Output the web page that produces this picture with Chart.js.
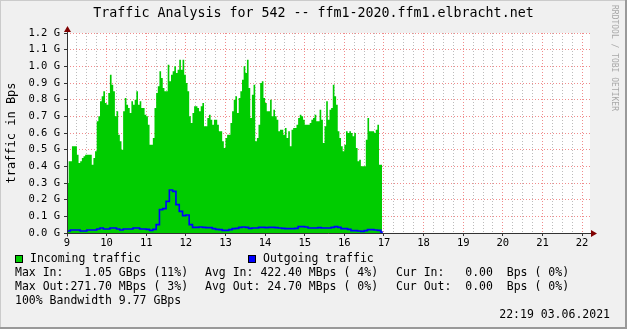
<!DOCTYPE html>
<html>
<head>
<meta charset="utf-8">
<script src="https://cdn.jsdelivr.net/npm/chart.js@4.4.0/dist/chart.umd.min.js"></script>
<style>
  html, body { margin: 0; padding: 0; background: #f0f0f0; }
</style>
</head>
<body>
<canvas id="chart" width="627" height="329"></canvas>
<script>
// muestras desde las 9:00, valores en G
const sampleStart = 9;
const inStepMinutes = 2.5;
const outStepMinutes = 5;
const dataEnd = 16.95;

const inTraffic = [
  // 9:00 - 11:00
  0.30, 0.43, 0.43, 0.52, 0.52, 0.52, 0.47, 0.42, 0.43, 0.45, 0.46, 0.47,
  0.47, 0.47, 0.47, 0.41, 0.45, 0.49, 0.67, 0.70, 0.79, 0.82, 0.85, 0.78,
  0.77, 0.84, 0.95, 0.89, 0.85, 0.70, 0.73, 0.59, 0.55, 0.50, 0.73, 0.81,
  0.77, 0.75, 0.72, 0.79, 0.77, 0.80, 0.85, 0.77, 0.79, 0.75, 0.75, 0.71,
  // 11:00 - 13:00
  0.70, 0.65, 0.53, 0.53, 0.57, 0.75, 0.84, 0.88, 0.97, 0.93, 0.87, 0.85,
  0.85, 1.01, 0.91, 0.95, 0.97, 1.00, 0.96, 0.98, 1.04, 0.98, 1.04, 0.95,
  0.90, 0.85, 0.70, 0.66, 0.72, 0.76, 0.76, 0.75, 0.73, 0.76, 0.78, 0.64,
  0.64, 0.69, 0.71, 0.68, 0.65, 0.68, 0.68, 0.65, 0.61, 0.61, 0.55, 0.51,
  // 13:00 - 15:00
  0.57, 0.59, 0.59, 0.66, 0.73, 0.80, 0.82, 0.72, 0.81, 0.85, 0.92, 1.00,
  0.96, 1.04, 0.87, 0.69, 0.83, 0.89, 0.55, 0.57, 0.65, 0.90, 0.91, 0.81,
  0.78, 0.73, 0.73, 0.80, 0.70, 0.74, 0.70, 0.68, 0.61, 0.62, 0.62, 0.59,
  0.63, 0.57, 0.61, 0.52, 0.62, 0.63, 0.63, 0.65, 0.69, 0.71, 0.70, 0.68,
  // 15:00 - 16:57
  0.65, 0.65, 0.65, 0.66, 0.68, 0.69, 0.71, 0.67, 0.67, 0.74, 0.68, 0.54,
  0.64, 0.79, 0.68, 0.74, 0.75, 0.89, 0.82, 0.77, 0.61, 0.57, 0.52, 0.49,
  0.53, 0.61, 0.60, 0.61, 0.60, 0.58, 0.60, 0.51, 0.43, 0.44, 0.40, 0.40,
  0.40, 0.56, 0.69, 0.61, 0.61, 0.61, 0.60, 0.62, 0.65, 0.41, 0.41
];

const outTraffic = [
  0.012, 0.018, 0.018, 0.018, 0.012, 0.012, 0.018, 0.018, 0.018, 0.024, 0.030, 0.024,
  0.024, 0.030, 0.030, 0.024, 0.018, 0.024, 0.024, 0.024, 0.030, 0.030, 0.024, 0.024,
  0.022, 0.016, 0.022, 0.050, 0.140, 0.146, 0.190, 0.258, 0.250, 0.170, 0.130, 0.104,
  0.108, 0.050, 0.034, 0.034, 0.036, 0.034, 0.032, 0.032, 0.026, 0.022, 0.020, 0.016,
  0.016, 0.020, 0.026, 0.028, 0.034, 0.036, 0.034, 0.028, 0.030, 0.030, 0.034, 0.034,
  0.032, 0.034, 0.034, 0.032, 0.030, 0.028, 0.026, 0.026, 0.026, 0.028, 0.038, 0.038,
  0.036, 0.030, 0.030, 0.030, 0.032, 0.030, 0.030, 0.030, 0.034, 0.038, 0.034, 0.026,
  0.026, 0.022, 0.014, 0.014, 0.012, 0.010, 0.014, 0.020, 0.020, 0.018, 0.016, 0.006
];

const titleText = 'Traffic Analysis for 542 -- ffm1-2020.ffm1.elbracht.net';
const yAxisTitle = 'traffic in Bps';
const seriesNames = ['Incoming traffic', 'Outgoing traffic'];
const seriesColors = ['#00cc00', '#0000ff'];
const statsRows = [
  ['Max In:   1.05 GBps (11%)', 'Avg In: 422.40 MBps ( 4%)', 'Cur In:   0.00  Bps ( 0%)'],
  ['Max Out:271.70 MBps ( 3%)', 'Avg Out: 24.70 MBps ( 0%)', 'Cur Out:  0.00  Bps ( 0%)']
];
const bandwidthText = '100% Bandwidth 9.77 GBps';
const stampText = '22:19 03.06.2021';
const watermark = 'RRDTOOL / TOBI OETIKER';

const MONO = "'DejaVu Sans Mono', monospace";
const MAJOR_GRID = '#f08c8c';
const MINOR_GRID = '#bcbcbc';

function toPoints(values, stepMinutes) {
  const pts = values.map((v, i) => ({ x: sampleStart + i * stepMinutes / 60, y: v }));
  pts.push({ x: dataEnd, y: 0 });
  return pts;
}

const isHour = v => Math.abs(v - Math.round(v)) < 1e-6;

// fondo, marco, título, ejes, flechas y leyenda estilo rrdtool
const rrdChrome = {
  id: 'rrdChrome',
  beforeDraw(chart) {
    const ctx = chart.ctx;
    const a = chart.chartArea;
    ctx.save();
    ctx.fillStyle = '#f0f0f0';
    ctx.fillRect(0, 0, chart.width, chart.height);
    ctx.fillStyle = '#ffffff';
    ctx.fillRect(a.left, a.top, a.right - a.left, a.bottom - a.top);
    ctx.fillStyle = '#cbcbcb';
    ctx.fillRect(0, 0, chart.width, 1);
    ctx.fillRect(0, 0, 1, chart.height);
    ctx.fillStyle = '#999999';
    ctx.fillRect(chart.width - 2, 0, 2, chart.height);
    ctx.fillRect(0, chart.height - 2, chart.width, 2);
    ctx.restore();
  },
  afterDatasetsDraw(chart) {
    const ctx = chart.ctx;
    const x = chart.scales.x, y = chart.scales.y;
    const x0 = Math.round(x.getPixelForValue(x.min)) + 0.5;
    const y0 = Math.round(y.getPixelForValue(0)) + 0.5;
    const xEnd = x.right;
    const yTop = y.top;
    ctx.save();
    ctx.strokeStyle = '#333333';
    ctx.lineWidth = 1;
    ctx.beginPath();
    ctx.moveTo(x0, y0 + 3);
    ctx.lineTo(x0, yTop - 4);
    ctx.moveTo(x0 - 3, y0);
    ctx.lineTo(xEnd + 2, y0);
    ctx.stroke();
    ctx.fillStyle = '#800000';
    ctx.beginPath();
    ctx.moveTo(x0 - 3.5, yTop - 1);
    ctx.lineTo(x0 + 3.5, yTop - 1);
    ctx.lineTo(x0, yTop - 7);
    ctx.closePath();
    ctx.fill();
    ctx.beginPath();
    ctx.moveTo(xEnd + 1, y0 - 3.5);
    ctx.lineTo(xEnd + 1, y0 + 3.5);
    ctx.lineTo(xEnd + 7, y0);
    ctx.closePath();
    ctx.fill();
    ctx.restore();
  },
  afterDraw(chart) {
    const ctx = chart.ctx;
    ctx.save();
    ctx.textBaseline = 'middle';
    ctx.fillStyle = '#000000';

    ctx.font = '13.3px ' + MONO;
    ctx.textAlign = 'center';
    ctx.fillText(titleText, chart.width / 2, 14);
    ctx.textAlign = 'left';

    ctx.font = '11.5px ' + MONO;
    const swatchX = [15, 248];
    seriesNames.forEach((name, i) => {
      ctx.fillStyle = seriesColors[i];
      ctx.fillRect(swatchX[i], 255, 8, 8);
      ctx.strokeStyle = '#000000';
      ctx.lineWidth = 1;
      ctx.strokeRect(swatchX[i] + 0.5, 255.5, 7, 7);
      ctx.fillStyle = '#000000';
      ctx.fillText(name, swatchX[i] + 15, 259);
    });

    const colX = [15, 205, 396];
    statsRows.forEach((row, r) => {
      row.forEach((txt, c) => ctx.fillText(txt, colX[c], 273 + r * 14));
    });
    ctx.fillText(bandwidthText, 15, 301);
    ctx.textAlign = 'right';
    ctx.fillText(stampText, 610, 315);

    ctx.textAlign = 'left';
    ctx.font = '8px ' + MONO;
    ctx.fillStyle = '#a8a8a8';
    ctx.translate(614, 5);
    ctx.rotate(Math.PI / 2);
    ctx.fillText(watermark, 0, 0);
    ctx.restore();
  }
};

new Chart(document.getElementById('chart'), {
  type: 'line',
  data: {
    datasets: [
      {
        label: seriesNames[1],
        data: toPoints(outTraffic, outStepMinutes),
        borderColor: seriesColors[1],
        borderWidth: 1.6,
        pointRadius: 0,
        stepped: true,
        fill: false,
        order: 0
      },
      {
        label: seriesNames[0],
        data: toPoints(inTraffic, inStepMinutes),
        borderColor: seriesColors[0],
        backgroundColor: seriesColors[0],
        borderWidth: 0,
        pointRadius: 0,
        stepped: true,
        fill: 'origin',
        order: 1
      }
    ]
  },
  options: {
    responsive: false,
    animation: false,
    devicePixelRatio: 1,
    layout: { padding: { left: 0, right: 37, top: 33, bottom: 79 } },
    plugins: {
      legend: { display: false },
      tooltip: { enabled: false },
      title: { display: false }
    },
    scales: {
      x: {
        type: 'linear',
        min: 9,
        max: 22.2,
        afterFit(scale) { scale.height = 17; },
        ticks: {
          stepSize: 0.25,
          autoSkip: false,
          includeBounds: false,
          maxRotation: 0,
          padding: 1,
          color: '#000000',
          font: { family: MONO, size: 10.5 },
          callback: v => isHour(v) ? String(Math.round(v)) : ''
        },
        grid: {
          color: c => isHour(c.tick.value) ? MAJOR_GRID : MINOR_GRID,
          lineWidth: 1,
          drawTicks: true,
          tickLength: 3,
          tickColor: c => isHour(c.tick.value) ? '#333333' : 'rgba(0,0,0,0)'
        },
        border: { display: false, dash: [1, 2] }
      },
      y: {
        min: 0,
        max: 1.2,
        afterFit(scale) { scale.width = 67; },
        ticks: {
          stepSize: 0.1,
          padding: 4,
          color: '#000000',
          font: { family: MONO, size: 10.5 },
          callback: v => v.toFixed(1) + ' G'
        },
        title: {
          display: true,
          text: yAxisTitle,
          color: '#000000',
          font: { family: MONO, size: 12 },
          padding: { top: 5, bottom: 0 }
        },
        grid: {
          color: MAJOR_GRID,
          lineWidth: 1,
          drawTicks: true,
          tickLength: 3,
          tickColor: '#333333'
        },
        border: { display: false, dash: [1, 2] }
      }
    }
  },
  plugins: [rrdChrome]
});
</script>
</body>
</html>
